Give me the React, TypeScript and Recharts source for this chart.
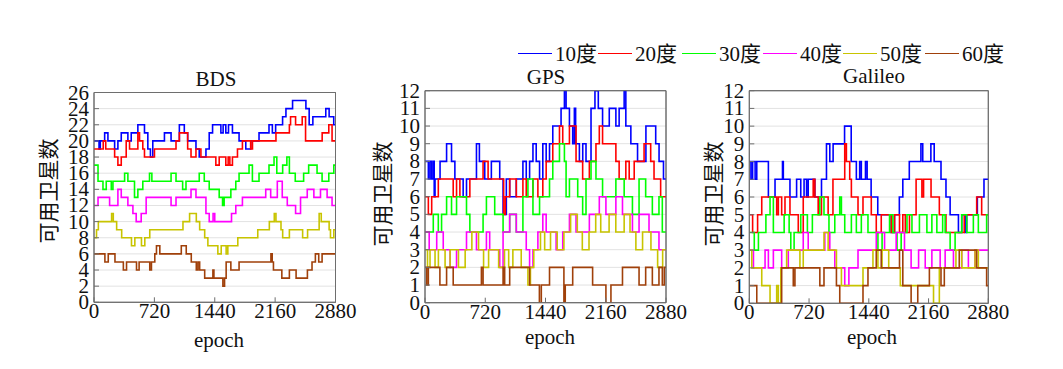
import React from 'react';
import { LineChart, Line, XAxis, YAxis, CartesianGrid, ReferenceArea } from 'recharts';

type Step = [number, number];

const masks = ['10度', '20度', '30度', '40度', '50度', '60度'];
const colors = ['#0000ff', '#ff0000', '#00ff00', '#ff00ff', '#c8c400', '#a0400a'];
const epochTicks = [0, 720, 1440, 2160, 2880];
const bdsTicks = [0, 2, 4, 6, 8, 10, 12, 14, 16, 18, 20, 22, 24, 26];
const gnssTicks = [0, 1, 2, 3, 4, 5, 6, 7, 8, 9, 10, 11, 12];

// [epoch, satellites] at each change of the count (stepAfter)
const bds10: Step[] = [[0, 20], [60, 19], [75, 20], [127, 21], [166, 20], [246, 19], [285, 20], [325, 21], [404, 20], [444, 21], [523, 22], [602, 21], [642, 19], [673, 18], [701, 20], [840, 21], [919, 20], [1018, 22], [1077, 21], [1117, 20], [1216, 19], [1255, 18], [1335, 19], [1374, 21], [1414, 22], [1513, 21], [1540, 22], [1572, 21], [1604, 22], [1651, 21], [1730, 20], [1810, 19], [1869, 20], [1968, 21], [2087, 22], [2127, 21], [2166, 22], [2249, 23], [2289, 24], [2368, 25], [2527, 24], [2566, 22], [2610, 23], [2685, 23], [2764, 24], [2804, 23], [2859, 22], [2880, 22]];
const bds20: Step[] = [[0, 19], [110, 20], [140, 19], [246, 18], [285, 17], [325, 18], [384, 20], [424, 19], [523, 21], [543, 20], [582, 19], [602, 18], [721, 19], [978, 20], [1018, 21], [1117, 19], [1157, 18], [1216, 19], [1275, 18], [1453, 17], [1493, 18], [1572, 17], [1600, 18], [1620, 17], [1651, 18], [1711, 19], [1770, 20], [1869, 19], [1890, 20], [2170, 21], [2330, 22], [2344, 23], [2404, 22], [2483, 23], [2523, 20], [2721, 21], [2800, 22], [2839, 20], [2880, 20]];
const bds30: Step[] = [[0, 17], [48, 15], [107, 14], [146, 15], [206, 14], [226, 15], [365, 16], [404, 15], [483, 13], [523, 14], [582, 15], [662, 16], [690, 15], [919, 16], [978, 15], [1057, 14], [1097, 15], [1255, 16], [1315, 15], [1374, 14], [1493, 13], [1533, 12], [1552, 13], [1632, 14], [1691, 15], [1730, 16], [1849, 17], [1889, 15], [1968, 16], [2087, 17], [2147, 18], [2180, 16], [2250, 17], [2300, 18], [2330, 16], [2400, 15], [2500, 16], [2560, 17], [2660, 16], [2720, 15], [2800, 16], [2860, 17], [2880, 17]];
const bds40: Step[] = [[0, 12], [48, 13], [186, 12], [285, 14], [325, 13], [404, 12], [464, 11], [503, 10], [563, 11], [622, 13], [919, 12], [978, 13], [1157, 14], [1216, 13], [1335, 11], [1374, 10], [1420, 11], [1440, 10], [1640, 11], [1691, 12], [1770, 13], [2048, 14], [2107, 13], [2186, 15], [2245, 13], [2305, 12], [2404, 11], [2463, 13], [2543, 14], [2622, 13], [2701, 14], [2780, 13], [2839, 12], [2880, 12]];
const bds50: Step[] = [[0, 8], [30, 9], [52, 10], [210, 11], [230, 10], [270, 9], [330, 8], [447, 7], [487, 8], [566, 7], [606, 8], [665, 9], [1061, 10], [1140, 11], [1220, 10], [1260, 9], [1320, 8], [1358, 7], [1477, 6], [1517, 7], [1576, 6], [1596, 7], [1715, 8], [1953, 9], [2091, 10], [2150, 11], [2170, 10], [2230, 9], [2250, 8], [2330, 9], [2488, 8], [2547, 9], [2685, 11], [2710, 10], [2804, 9], [2820, 8], [2860, 9], [2880, 9]];
const bds60: Step[] = [[0, 6], [130, 5], [170, 6], [250, 5], [350, 4], [388, 5], [507, 4], [538, 5], [665, 4], [685, 5], [725, 6], [745, 7], [785, 6], [1041, 7], [1100, 6], [1160, 5], [1220, 4], [1240, 5], [1260, 4], [1320, 3], [1418, 4], [1430, 3], [1537, 2], [1557, 3], [1576, 5], [1632, 4], [1730, 5], [2110, 6], [2125, 5], [2140, 4], [2240, 3], [2330, 4], [2410, 3], [2545, 4], [2600, 5], [2640, 6], [2680, 5], [2720, 6], [2880, 6]];

const gps10: Step[] = [[0, 8], [40, 7], [60, 8], [80, 7], [100, 8], [110, 6], [120, 7], [180, 8], [258, 9], [317, 8], [357, 7], [456, 6], [496, 7], [615, 9], [650, 8], [714, 7], [793, 8], [893, 7], [933, 5], [972, 7], [1012, 6], [1091, 7], [1170, 8], [1210, 7], [1250, 8], [1290, 9], [1329, 8], [1369, 7], [1408, 9], [1448, 8], [1488, 9], [1527, 10], [1626, 11], [1666, 12], [1686, 11], [1726, 10], [1765, 9], [1785, 11], [1800, 9], [1845, 8], [1885, 9], [1924, 8], [1984, 11], [2031, 12], [2071, 11], [2122, 10], [2202, 11], [2281, 10], [2320, 11], [2380, 12], [2400, 10], [2460, 9], [2540, 8], [2640, 10], [2757, 9], [2797, 8], [2850, 7], [2880, 7]];
const gps20: Step[] = [[0, 6], [40, 5], [80, 6], [159, 7], [337, 6], [377, 7], [417, 6], [536, 7], [694, 8], [754, 7], [940, 5], [960, 6], [1012, 7], [1091, 6], [1170, 7], [1210, 6], [1290, 7], [1349, 6], [1408, 7], [1448, 8], [1527, 9], [1607, 10], [1646, 9], [1726, 10], [1805, 8], [1884, 7], [1964, 8], [2043, 9], [2083, 10], [2122, 9], [2281, 8], [2320, 7], [2400, 8], [2440, 7], [2500, 8], [2618, 9], [2697, 8], [2737, 7], [2816, 6], [2880, 6]];
const gps30: Step[] = [[0, 4], [99, 5], [159, 4], [198, 5], [258, 6], [317, 5], [377, 6], [496, 5], [536, 4], [694, 5], [734, 6], [833, 5], [933, 4], [1012, 5], [1091, 4], [1170, 6], [1230, 7], [1290, 5], [1369, 6], [1488, 7], [1527, 8], [1607, 9], [1666, 8], [1686, 6], [1726, 7], [1825, 6], [1884, 5], [1924, 7], [1984, 8], [2043, 7], [2122, 6], [2281, 7], [2380, 6], [2479, 5], [2558, 7], [2637, 6], [2717, 5], [2796, 6], [2836, 4], [2880, 4]];
const gps40: Step[] = [[0, 4], [50, 3], [140, 4], [218, 3], [300, 2], [377, 3], [496, 4], [615, 3], [734, 4], [773, 3], [893, 2], [933, 4], [1012, 5], [1091, 4], [1210, 3], [1250, 2], [1290, 3], [1349, 4], [1408, 5], [1448, 4], [1567, 3], [1646, 4], [1726, 5], [1805, 4], [1964, 5], [2083, 6], [2162, 5], [2281, 6], [2360, 5], [2479, 4], [2558, 5], [2677, 4], [2796, 3], [2880, 3]];
const gps50: Step[] = [[0, 3], [30, 2], [60, 3], [120, 2], [160, 3], [240, 2], [300, 3], [400, 2], [480, 3], [560, 4], [640, 3], [700, 2], [760, 3], [880, 2], [950, 3], [1000, 2], [1050, 3], [1150, 2], [1230, 1], [1260, 2], [1300, 3], [1380, 4], [1430, 3], [1500, 4], [1580, 3], [1660, 4], [1740, 5], [1820, 4], [1880, 3], [1960, 4], [2040, 5], [2100, 4], [2200, 5], [2280, 4], [2380, 5], [2450, 4], [2520, 3], [2600, 4], [2700, 3], [2780, 2], [2840, 3], [2880, 3]];
const gps60: Step[] = [[0, 2], [20, 1], [40, 2], [178, 1], [258, 2], [337, 1], [674, 2], [694, 1], [933, 2], [952, 1], [1012, 2], [1250, 1], [1367, 0], [1390, 1], [1488, 2], [1660, 0], [1676, 1], [1765, 2], [2003, 1], [2162, 0], [2222, 1], [2360, 2], [2558, 1], [2637, 2], [2717, 1], [2796, 2], [2836, 1], [2860, 2], [2880, 2]];

const gal10: Step[] = [[0, 8], [20, 7], [40, 8], [70, 7], [90, 8], [230, 6], [310, 7], [400, 8], [410, 7], [490, 6], [570, 7], [620, 6], [660, 7], [690, 6], [710, 7], [790, 6], [870, 7], [930, 9], [970, 8], [1010, 9], [1148, 10], [1228, 8], [1290, 7], [1330, 8], [1350, 7], [1400, 8], [1420, 7], [1468, 6], [1548, 5], [1710, 4], [1750, 5], [1808, 6], [1850, 7], [1928, 8], [2068, 9], [2090, 8], [2188, 9], [2228, 8], [2310, 7], [2370, 6], [2420, 5], [2520, 4], [2560, 5], [2600, 4], [2620, 5], [2748, 6], [2828, 7], [2880, 7]];
const gal20: Step[] = [[0, 5], [40, 4], [100, 5], [150, 6], [330, 5], [350, 6], [390, 5], [430, 6], [490, 5], [590, 4], [650, 6], [770, 7], [790, 6], [830, 5], [870, 6], [950, 5], [1008, 7], [1150, 9], [1170, 8], [1210, 7], [1230, 6], [1310, 5], [1370, 6], [1470, 5], [1530, 4], [1590, 5], [1710, 4], [1750, 5], [1810, 4], [1850, 5], [1880, 4], [1930, 5], [2010, 7], [2080, 6], [2100, 7], [2190, 6], [2290, 5], [2370, 4], [2590, 5], [2740, 6], [2800, 5], [2880, 5]];
const gal30: Step[] = [[0, 4], [60, 3], [110, 4], [200, 5], [250, 6], [290, 4], [420, 5], [480, 4], [500, 3], [540, 4], [620, 5], [700, 4], [760, 5], [850, 6], [900, 5], [960, 4], [1030, 5], [1090, 6], [1110, 5], [1150, 4], [1230, 5], [1290, 4], [1350, 5], [1430, 4], [1550, 3], [1600, 4], [1690, 5], [1730, 4], [1780, 3], [1830, 4], [1900, 5], [1960, 4], [2050, 5], [2140, 4], [2200, 5], [2260, 4], [2330, 5], [2360, 4], [2420, 3], [2480, 4], [2560, 5], [2620, 4], [2700, 5], [2760, 4], [2860, 5], [2880, 5]];
const gal40: Step[] = [[0, 3], [50, 2], [190, 3], [230, 2], [290, 3], [390, 2], [470, 3], [650, 4], [710, 3], [910, 4], [970, 3], [1030, 2], [1150, 1], [1200, 2], [1310, 3], [1530, 4], [1630, 3], [1770, 4], [1870, 3], [1950, 2], [2040, 3], [2120, 2], [2200, 3], [2300, 2], [2360, 3], [2460, 2], [2560, 3], [2640, 2], [2720, 3], [2880, 3]];
const gal50: Step[] = [[0, 3], [30, 2], [150, 1], [250, 0], [330, 1], [350, 0], [380, 2], [450, 3], [610, 2], [650, 3], [900, 4], [950, 3], [1050, 2], [1110, 1], [1370, 2], [1490, 3], [1550, 2], [1600, 3], [1680, 2], [1820, 1], [2220, 0], [2290, 2], [2490, 3], [2560, 2], [2720, 3], [2760, 2], [2880, 2]];
const gal60: Step[] = [[0, 1], [90, 0], [390, 2], [530, 1], [550, 2], [850, 1], [900, 2], [1050, 1], [1090, 0], [1370, 1], [1430, 2], [1530, 3], [1590, 2], [1810, 3], [1850, 1], [1950, 0], [2030, 1], [2170, 2], [2310, 1], [2350, 2], [2530, 3], [2740, 2], [2860, 1], [2880, 1]];

const serif = '"Liberation Serif", "Times New Roman", serif';
const cjk = '"Noto Sans CJK SC", sans-serif';
const frame = '#6e6e6e';
const H = 369;

type PanelProps = {
  left: number;
  width: number;
  plotLeft: number;
  plotRight: number;
  plotTop: number;
  plotBottom: number;
  yMax: number;
  yTicks: number[];
  series: Step[][];
};

// tick label drawn as plain svg text so the serif font and size stick
const TickText = (anchor: 'middle' | 'end', dx: number, dy: number) => (props: any) => {
  const { x, y, payload } = props;
  return (
    <text x={x + dx} y={y + dy} textAnchor={anchor} fontFamily={serif} fontSize={21} fill="#111">
      {payload.value}
    </text>
  );
};

function Panel(p: PanelProps) {
  const blank = () => '';
  return (
    <div style={{ position: 'absolute', left: p.left, top: 0 }}>
      <LineChart
        width={p.width}
        height={H}
        margin={{ top: p.plotTop, right: p.left + p.width - p.plotRight, bottom: H - p.plotBottom - 30, left: 0 }}
        style={{ fontFamily: serif }}
      >
        <CartesianGrid vertical={false} stroke="#e2e2e2" />
        <XAxis type="number" dataKey="x" domain={[0, 2880]} ticks={epochTicks} interval={0} height={30}
          tickSize={-5} tickMargin={0} stroke={frame} tick={TickText('middle', 0, 21)} allowDataOverflow />
        <XAxis xAxisId="top" orientation="top" type="number" dataKey="x" domain={[0, 2880]} ticks={epochTicks}
          interval={0} height={1} tickSize={-5} tickFormatter={blank} stroke={frame} />
        <YAxis type="number" domain={[0, p.yMax]} ticks={p.yTicks} interval={0} width={p.plotLeft - p.left}
          tickSize={-5} tickMargin={0} stroke={frame} tick={TickText('end', -10, 7)} allowDataOverflow />
        <YAxis yAxisId="right" orientation="right" type="number" domain={[0, p.yMax]} ticks={p.yTicks}
          interval={0} width={1} tickSize={-5} tickFormatter={blank} stroke={frame} />
        {p.series.map((s, i) => (
          <Line
            key={masks[i]}
            data={s.map(([x, y]) => ({ x, y }))}
            dataKey="y"
            type="stepAfter"
            stroke={colors[i]}
            strokeWidth={1.6}
            dot={false}
            isAnimationActive={false}
          />
        ))}
        <ReferenceArea x1={0} x2={2880} y1={0} y2={p.yMax} fill="none" stroke={frame} strokeWidth={1}
          ifOverflow="visible" />
      </LineChart>
    </div>
  );
}

const legendX = [518, 598, 682, 763, 843, 925];

export default function App() {
  return (
    <div style={{ position: 'fixed', left: 0, top: 0, width: 1063, height: H, background: '#fff', overflow: 'hidden' }}>
      <Panel left={0} width={360} plotLeft={94} plotRight={336.5} plotTop={91.5} plotBottom={302.3}
        yMax={26} yTicks={bdsTicks} series={[bds10, bds20, bds30, bds40, bds50, bds60]} />
      <Panel left={360} width={330} plotLeft={425} plotRight={667} plotTop={89.7} plotBottom={302.7}
        yMax={12} yTicks={gnssTicks} series={[gps10, gps20, gps30, gps40, gps50, gps60]} />
      <Panel left={690} width={373} plotLeft={749.3} plotRight={989.3} plotTop={89.7} plotBottom={303.3}
        yMax={12} yTicks={gnssTicks} series={[gal10, gal20, gal30, gal40, gal50, gal60]} />

      <svg width={1063} height={H} style={{ position: 'absolute', left: 0, top: 0, pointerEvents: 'none' }}>
        <g fontFamily={serif} fontSize={21} fill="#111" textAnchor="middle">
          <text x={216} y={86}>BDS</text>
          <text x={546} y={84}>GPS</text>
          <text x={874} y={83}>Galileo</text>
          <text x={219} y={346.5}>epoch</text>
          <text x={550} y={344}>epoch</text>
          <text x={872} y={344}>epoch</text>
        </g>
        <g fontFamily={cjk} fontSize={21} fill="#111" textAnchor="middle" dominantBaseline="central">
          <text x={47} y={191} transform="rotate(-90 47 191)">可用卫星数</text>
          <text x={381} y={194} transform="rotate(-90 381 194)">可用卫星数</text>
          <text x={712} y={194} transform="rotate(-90 712 194)">可用卫星数</text>
        </g>
        {masks.map((m, i) => (
          <g key={m}>
            <line x1={legendX[i]} x2={legendX[i] + 34} y1={53.5} y2={53.5} stroke={colors[i]} strokeWidth={1} />
            <text x={legendX[i] + 37} y={61} fontFamily={serif} fontSize={21} fill="#111">
              {m.slice(0, 2)}
              <tspan fontFamily={cjk}>{m.slice(2)}</tspan>
            </text>
          </g>
        ))}
      </svg>
    </div>
  );
}
